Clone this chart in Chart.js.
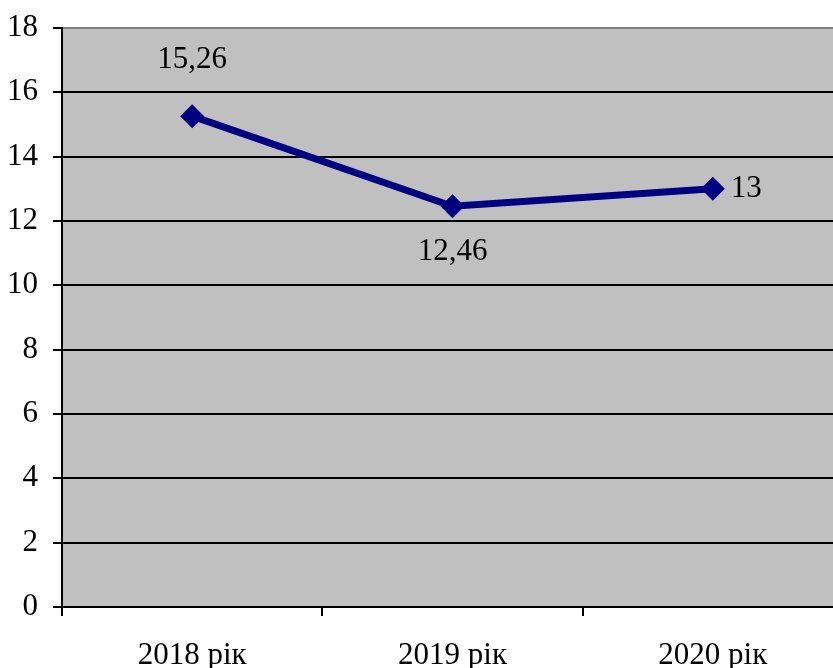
<!DOCTYPE html>
<html>
<head>
<meta charset="utf-8">
<script src="https://cdn.jsdelivr.net/npm/chart.js@4"></script>
<style>
  html, body { margin: 0; padding: 0; background: #ffffff; overflow: hidden; }
  #wrap { width: 833px; height: 668px; overflow: hidden; }
  canvas { display: block; width: 850px; height: 668px; }
</style>
</head>
<body>
<div id="wrap"><canvas id="c" width="850" height="668" style="width:850px;height:668px"></canvas></div>
<script>
// Categories and values
const years = ['2018 рік', '2019 рік', '2020 рік'];
const values = [15.26, 12.46, 13];
const valueLabels = ['15,26', '12,46', '13'];
// Where each value label sits relative to its point
const labelPlacement = ['top', 'bottom', 'right'];

const FONT = "'Liberation Serif', 'Times New Roman', serif";
const FONT_SIZE = 31;

const plotBackground = {
  id: 'plotBackground',
  beforeDraw(chart) {
    const { ctx, chartArea: a } = chart;
    ctx.save();
    ctx.fillStyle = '#c0c0c0';
    ctx.fillRect(a.left, a.top, a.right - a.left, a.bottom - a.top);
    ctx.restore();
  }
};

const valueLabelsPlugin = {
  id: 'valueLabels',
  afterDatasetsDraw(chart) {
    const { ctx } = chart;
    const meta = chart.getDatasetMeta(0);
    ctx.save();
    ctx.font = FONT_SIZE + 'px ' + FONT;
    ctx.fillStyle = '#000000';
    meta.data.forEach((pt, i) => {
      const place = labelPlacement[i];
      let x = pt.x, y = pt.y;
      if (place === 'top') { ctx.textAlign = 'center'; ctx.textBaseline = 'middle'; y -= 56; }
      else if (place === 'bottom') { ctx.textAlign = 'center'; ctx.textBaseline = 'middle'; y += 46; }
      else { ctx.textAlign = 'left'; ctx.textBaseline = 'middle'; x += 18; }
      ctx.fillText(valueLabels[i], x, y);
    });
    ctx.restore();
  }
};

function build() {
  new Chart(document.getElementById('c'), {
    type: 'line',
    data: {
      labels: years,
      datasets: [{
        data: values,
        borderColor: '#000080',
        borderWidth: 7,
        tension: 0,
        pointStyle: 'rectRot',
        pointRadius: 12,
        pointBackgroundColor: '#000080',
        pointBorderColor: '#000080',
        pointBorderWidth: 0,
        fill: false
      }]
    },
    options: {
      responsive: false,
      animation: false,
      devicePixelRatio: 1,
      layout: { autoPadding: false, padding: { top: 28, right: 7, left: 0, bottom: 0 } },
      plugins: { legend: { display: false }, tooltip: { enabled: false } },
      scales: {
        x: {
          type: 'category',
          offset: true,
          grid: {
            offset: true,
            drawOnChartArea: false,
            drawTicks: true,
            tickLength: 9,
            color: '#000000',
            lineWidth: 2
          },
          border: { display: true, color: '#000000', width: 2 },
          ticks: {
            color: '#000000',
            font: { family: FONT, size: FONT_SIZE },
            padding: 21,
            maxRotation: 0
          },
          afterFit(scale) {
            scale.height = 61;
            scale.paddingLeft = 0;
            scale.paddingRight = 0;
          }
        },
        y: {
          min: 0,
          max: 18,
          ticks: {
            stepSize: 2,
            color: '#000000',
            font: { family: FONT, size: FONT_SIZE },
            padding: 15
          },
          grid: {
            color: (c) => (c.tick && c.tick.value === 18 ? '#808080' : '#000000'),
            lineWidth: 2,
            tickLength: 9,
            tickColor: '#000000'
          },
          border: { display: true, color: '#000000', width: 2 },
          afterFit(scale) {
            scale.width = 62;
            scale.paddingTop = 0;
            scale.paddingBottom = 0;
          }
        }
      }
    },
    plugins: [plotBackground, valueLabelsPlugin]
  });
}

document.fonts.load(FONT_SIZE + 'px "Liberation Serif"').then(build, build);
</script>
</body>
</html>
